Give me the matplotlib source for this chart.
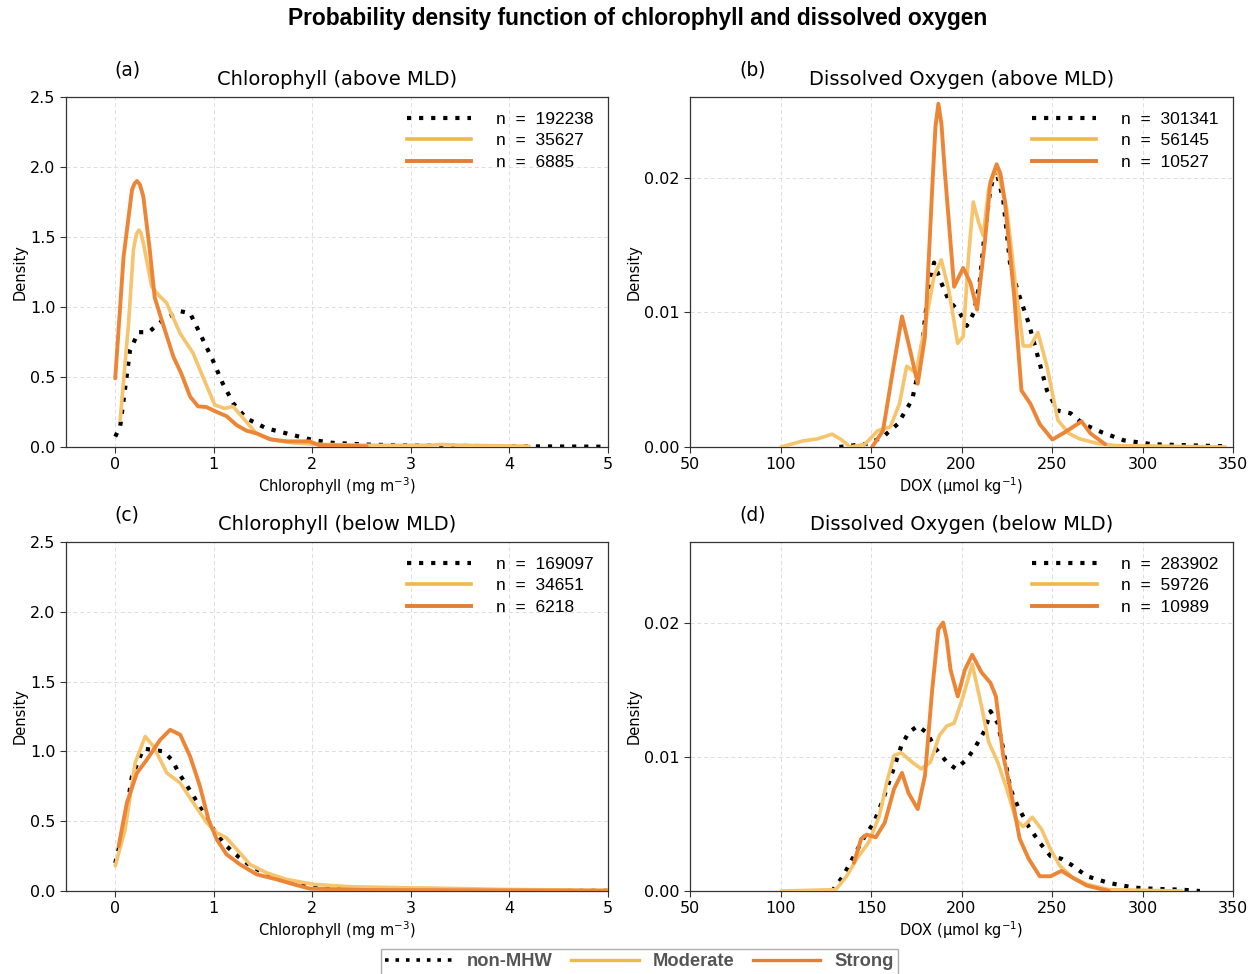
import matplotlib
matplotlib.use("Agg")
import matplotlib.pyplot as plt
from matplotlib.lines import Line2D

# ---------------- data ----------------
# Panel (a): Chlorophyll above MLD
a_non_x = [0, 0.05, 0.15, 0.235, 0.34, 0.49, 0.66, 0.76, 0.86, 0.99, 1.09, 1.20, 1.33, 1.53, 1.80, 2.0, 2.2, 2.55, 3.05, 4.05, 4.97]
a_non_y = [0.074, 0.145, 0.69, 0.82, 0.82, 0.91, 0.97, 0.955, 0.81, 0.62, 0.455, 0.31, 0.205, 0.134, 0.086, 0.05, 0.03, 0.017, 0.01, 0.005, 0.002]
a_mod_x = [0.05, 0.135, 0.185, 0.215, 0.24, 0.26, 0.286, 0.37, 0.44, 0.52, 0.66, 0.79, 0.89, 1.01, 1.11, 1.195, 1.30, 1.43, 1.60, 1.8, 2.0, 2.6, 3.2, 3.3, 3.5, 4.05, 4.2]
a_mod_y = [0.19, 0.88, 1.41, 1.52, 1.55, 1.53, 1.455, 1.145, 1.085, 1.03, 0.81, 0.67, 0.50, 0.30, 0.275, 0.29, 0.205, 0.098, 0.05, 0.03, 0.02, 0.012, 0.012, 0.018, 0.012, 0.007, 0.006]
a_str_x = [0, 0.085, 0.17, 0.195, 0.22, 0.25, 0.285, 0.35, 0.40, 0.47, 0.59, 0.67, 0.76, 0.84, 0.925, 1.03, 1.13, 1.23, 1.33, 1.43, 1.57, 1.74, 1.97, 2.07, 2.55]
a_str_y = [0.49, 1.36, 1.835, 1.88, 1.90, 1.875, 1.79, 1.41, 1.07, 0.91, 0.645, 0.525, 0.36, 0.29, 0.285, 0.25, 0.22, 0.157, 0.117, 0.098, 0.055, 0.04, 0.04, 0.013, 0.005]
a_n = [192238, 35627, 6885]

# Panel (b): Dissolved oxygen above MLD
b_non_x = [132.5, 148.6, 156.6, 164.7, 172.7, 176.8, 180.8, 184.8, 188.8, 192.9, 198.9, 202.9, 206.9, 210, 213, 216, 219, 223, 227, 232, 237.1, 242.2, 247.2, 253.2, 260.3, 267.3, 277.4, 289.4, 305.5, 345.8]
b_non_y = [0, 0.00025, 0.00075, 0.0017, 0.0035, 0.006, 0.0107, 0.0137, 0.0122, 0.0109, 0.0100, 0.0090, 0.0100, 0.0122, 0.0162, 0.0192, 0.0206, 0.0184, 0.0134, 0.0112, 0.0092, 0.0067, 0.0042, 0.0027, 0.0025, 0.0017, 0.0011, 0.0005, 0.0002, 0.00005]
b_mod_x = [100.3, 112.4, 120.4, 128.5, 133.5, 138.5, 146.6, 153.6, 160.7, 165.7, 169.7, 174.8, 180.8, 184.8, 188.8, 192.9, 197.9, 200.9, 203.9, 206.5, 209.4, 212, 215, 219.4, 225, 230.1, 234.1, 238.1, 242.2, 247.2, 253.2, 259.3, 265.3, 275.4, 285.4, 345.8]
b_mod_y = [0, 0.00045, 0.0006, 0.00095, 0.00055, 0, 0.0002, 0.0012, 0.0015, 0.0032, 0.006, 0.0055, 0.0097, 0.0127, 0.0139, 0.0117, 0.0077, 0.0082, 0.0142, 0.0182, 0.0167, 0.0157, 0.0192, 0.0208, 0.0177, 0.0117, 0.0075, 0.0075, 0.0085, 0.006, 0.002, 0.001, 0.0006, 0.00025, 0.0001, 0]
b_str_x = [150.6, 156.6, 162.7, 167.1, 170.7, 175.8, 179.8, 183.8, 185.6, 187.2, 188.9, 190.8, 195.9, 200.9, 204.9, 208.6, 213, 216, 219.4, 221.5, 224, 229.1, 233.1, 238.1, 243.2, 250.2, 257.2, 266.3, 271.3, 279.4]
b_str_y = [0, 0.0012, 0.0062, 0.0097, 0.0077, 0.0047, 0.0082, 0.0192, 0.0238, 0.0255, 0.0240, 0.0204, 0.0119, 0.0133, 0.0122, 0.0102, 0.0154, 0.0197, 0.0210, 0.0203, 0.0182, 0.0112, 0.0042, 0.0032, 0.0017, 0.00055, 0.0011, 0.0019, 0.001, 0.0002]
b_n = [301341, 56145, 10527]

# Panel (c): Chlorophyll below MLD
c_non_x = [0, 0.084, 0.169, 0.287, 0.39, 0.49, 0.574, 0.659, 0.777, 0.878, 0.997, 1.098, 1.2, 1.334, 1.47, 1.672, 1.875, 2.145, 2.55, 3.23, 5.0]
c_non_y = [0.20, 0.44, 0.82, 1.02, 1.01, 1.0, 0.94, 0.83, 0.70, 0.58, 0.44, 0.345, 0.274, 0.20, 0.143, 0.088, 0.055, 0.024, 0.012, 0.005, 0.002]
c_mod_x = [0, 0.10, 0.203, 0.304, 0.389, 0.524, 0.659, 0.794, 0.93, 1.03, 1.13, 1.233, 1.368, 1.537, 1.74, 2.01, 2.38, 2.89, 3.23, 3.9, 5.0]
c_mod_y = [0.18, 0.44, 0.92, 1.107, 1.036, 0.845, 0.774, 0.63, 0.488, 0.417, 0.38, 0.298, 0.19, 0.13, 0.083, 0.048, 0.031, 0.024, 0.021, 0.012, 0.005]
c_str_x = [0.034, 0.118, 0.22, 0.32, 0.456, 0.557, 0.659, 0.76, 0.86, 0.946, 1.03, 1.13, 1.267, 1.436, 1.64, 1.81, 1.976, 2.55, 5.0]
c_str_y = [0.32, 0.63, 0.845, 0.94, 1.083, 1.155, 1.12, 0.964, 0.75, 0.512, 0.37, 0.262, 0.19, 0.119, 0.083, 0.048, 0.017, 0.007, 0.002]
c_n = [169097, 34651, 6218]

# Panel (d): Dissolved oxygen below MLD
d_non_x = [128.5, 134.5, 140.5, 146.6, 151.6, 156.6, 161.7, 166.7, 170.7, 175.8, 180.8, 185.8, 191.9, 196.9, 202.9, 207.9, 213, 216, 220, 223, 227, 231.1, 237.1, 243.2, 249.2, 255.2, 261.3, 269.3, 281.4, 295.5, 305.5, 321.6, 331.7]
d_non_y = [0, 0.0011, 0.0026, 0.0041, 0.0051, 0.0068, 0.0088, 0.0108, 0.0118, 0.0123, 0.0118, 0.0106, 0.0096, 0.0091, 0.0098, 0.0108, 0.0120, 0.0134, 0.0125, 0.0106, 0.0076, 0.0063, 0.0048, 0.0036, 0.0026, 0.0024, 0.0019, 0.0011, 0.0006, 0.00025, 0.00017, 0.0001, 0]
d_mod_x = [100.3, 130.5, 136.5, 142.6, 148.6, 154.6, 158.7, 162.7, 166.7, 172.7, 177.8, 182.8, 187.8, 191.9, 195.9, 200.9, 205.9, 211, 215, 220, 225, 230.1, 234.1, 239.1, 244.2, 249.2, 254.2, 261.3, 269.3, 281.4, 321.6]
d_mod_y = [0, 0.0001, 0.0011, 0.0025, 0.0036, 0.0056, 0.0081, 0.0101, 0.0103, 0.0096, 0.0091, 0.0096, 0.0116, 0.0123, 0.0125, 0.0145, 0.0169, 0.0138, 0.0111, 0.0096, 0.0076, 0.0053, 0.0048, 0.0055, 0.0046, 0.0031, 0.0019, 0.001, 0.0005, 0.0001, 0]
d_str_x = [140.5, 144.6, 147.6, 152.6, 157.6, 162.7, 167.1, 170.7, 175.8, 179.8, 183.8, 187.2, 189.8, 191.8, 193.9, 197.9, 201.9, 205.9, 211, 216, 219, 223, 227, 232.1, 237.1, 243.2, 249.2, 255.2, 261.3, 269.3, 281.4]
d_str_y = [0.0021, 0.0039, 0.0042, 0.0040, 0.0051, 0.0076, 0.0088, 0.0073, 0.0061, 0.0086, 0.0150, 0.0195, 0.0200, 0.0188, 0.0165, 0.0145, 0.0165, 0.0176, 0.0163, 0.0155, 0.0145, 0.0101, 0.0076, 0.0039, 0.0024, 0.0011, 0.0011, 0.0015, 0.001, 0.0004, 0]
d_n = [283902, 59726, 10989]

titles = ["Chlorophyll (above MLD)", "Dissolved Oxygen (above MLD)",
          "Chlorophyll (below MLD)", "Dissolved Oxygen (below MLD)"]
panel_tags = ["(a)", "(b)", "(c)", "(d)"]
categories = ["non-MHW", "Moderate", "Strong"]
chl_xlabel = "Chlorophyll (mg m$^{-3}$)"
dox_xlabel = "DOX (µmol kg$^{-1}$)"

# ---------------- style ----------------
C_NON = "black"
C_MOD = "#F6C46C"
C_STR = "#EC8535"
C_MOD_LEG = "#F0B848"
C_STR_LEG = "#E27F36"
SANS = ["Liberation Sans", "DejaVu Sans"]
DOTS = (0, (1, 1.9))

fig = plt.figure(figsize=(12.56, 9.74), dpi=100)

positions = [
    [0.0525, 0.5411, 0.4316, 0.3593],
    [0.5494, 0.5411, 0.4323, 0.3593],
    [0.0525, 0.0852, 0.4316, 0.3583],
    [0.5494, 0.0852, 0.4323, 0.3583],
]

panels = [
    (a_non_x, a_non_y, a_mod_x, a_mod_y, a_str_x, a_str_y, a_n),
    (b_non_x, b_non_y, b_mod_x, b_mod_y, b_str_x, b_str_y, b_n),
    (c_non_x, c_non_y, c_mod_x, c_mod_y, c_str_x, c_str_y, c_n),
    (d_non_x, d_non_y, d_mod_x, d_mod_y, d_str_x, d_str_y, d_n),
]

for i, (pos, data) in enumerate(zip(positions, panels)):
    nx, ny, mx, my, sx, sy, ns = data
    ax = fig.add_axes(pos)
    is_chl = (i % 2 == 0)
    ax.grid(True, linestyle=(0, (4, 3)), color="#dddddd", linewidth=0.7)
    ax.set_axisbelow(True)
    ax.plot(nx, ny, color=C_NON, lw=3.0, linestyle=DOTS,
            dash_capstyle="butt", zorder=3)
    ax.plot(mx, my, color=C_MOD, lw=2.6, solid_joinstyle="round",
            solid_capstyle="round", zorder=4)
    ax.plot(sx, sy, color=C_STR, lw=2.8, solid_joinstyle="round",
            solid_capstyle="round", zorder=5)
    if is_chl:
        ax.set_xlim(-0.5, 5)
        ax.set_ylim(0, 2.5)
        ax.set_xticks([0, 1, 2, 3, 4, 5])
        ax.set_yticks([0.0, 0.5, 1.0, 1.5, 2.0, 2.5])
        ax.set_yticklabels(["0.0", "0.5", "1.0", "1.5", "2.0", "2.5"])
        ax.set_xlabel(chl_xlabel, fontsize=10.5, labelpad=2)
    else:
        ax.set_xlim(50, 350)
        ax.set_ylim(0, 0.026)
        ax.set_xticks([50, 100, 150, 200, 250, 300, 350])
        ax.set_yticks([0.0, 0.01, 0.02])
        ax.set_yticklabels(["0.00", "0.01", "0.02"])
        ax.set_xlabel(dox_xlabel, fontsize=10.5, labelpad=2)
    ax.set_ylabel("Density", fontsize=10.5, labelpad=2)
    ax.tick_params(labelsize=11.5, length=4, width=0.8, color="#333333")
    for sp in ax.spines.values():
        sp.set_color("#333333")
        sp.set_linewidth(0.9)
    ax.set_title(titles[i], fontsize=14, pad=9)
    ax.text(0.09, 1.05, panel_tags[i], transform=ax.transAxes, fontsize=13.5,
            ha="left", va="bottom")

    h1 = Line2D([], [], color=C_NON, lw=3.0, linestyle=DOTS)
    h2 = Line2D([], [], color=C_MOD_LEG, lw=2.6)
    h3 = Line2D([], [], color=C_STR_LEG, lw=2.8)
    labels = [f"n  =  {n}" for n in ns]
    ax.legend([h1, h2, h3], labels, loc="upper right", frameon=False,
              prop={"family": SANS, "size": 12.5}, handlelength=3.7,
              handletextpad=1.4, labelspacing=0.36, borderaxespad=0.55,
              borderpad=0.3)

fig.suptitle("Probability density function of chlorophyll and dissolved oxygen",
             fontsize=16.4, fontweight="bold", family=SANS, y=0.993, x=0.508)

lh1 = Line2D([], [], color=C_NON, lw=2.6, linestyle=DOTS)
lh2 = Line2D([], [], color=C_MOD_LEG, lw=2.4)
lh3 = Line2D([], [], color=C_STR_LEG, lw=2.4)
leg = fig.legend([lh1, lh2, lh3], categories, loc="center",
                 bbox_to_anchor=(0.509, 0.0125), ncol=3, frameon=True,
                 fancybox=False, edgecolor="#999999",
                 prop={"family": SANS, "size": 13.2, "weight": "bold"},
                 handlelength=3.7, handletextpad=0.75, columnspacing=1.0,
                 borderpad=0.25)
leg.get_frame().set_linewidth(1.0)
for t in leg.get_texts():
    t.set_color("#555555")

fig.savefig("out.png", dpi=100)
